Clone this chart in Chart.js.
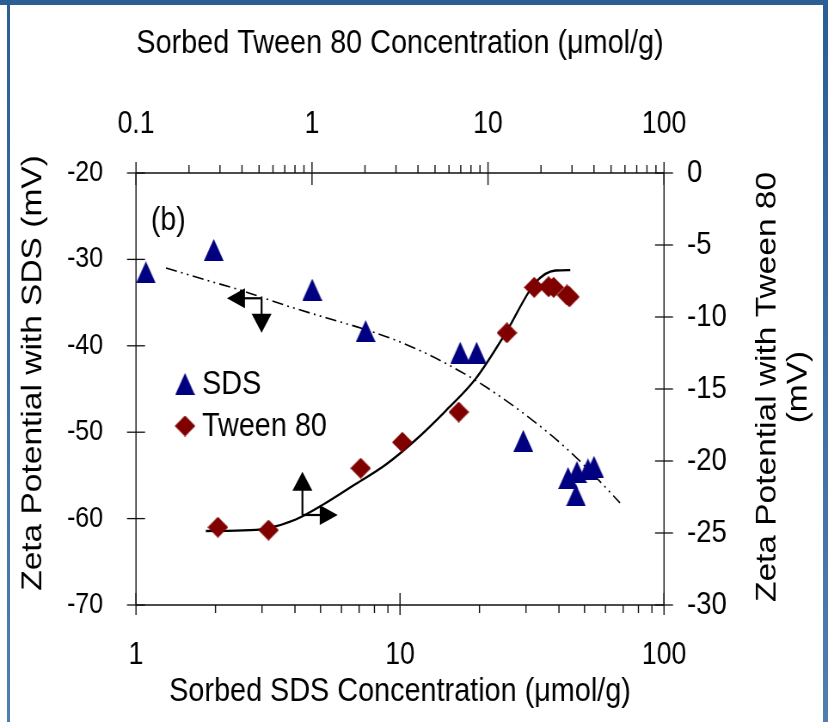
<!DOCTYPE html>
<html><head><meta charset="utf-8">
<script src="https://cdn.jsdelivr.net/npm/chart.js@4.4.1/dist/chart.umd.min.js"></script>
<style>
html,body{margin:0;padding:0;background:#fff;}
#wrap{position:relative;width:828px;height:722px;overflow:hidden;background:#fff;}
#c{position:absolute;left:0;top:0;transform-origin:0 0;}
.bar{position:absolute;}
</style></head><body>
<div id="wrap">
<canvas id="c"></canvas>
<div class="bar" style="left:0;top:0;width:828px;height:5px;background:#2B5E95"></div>
<div class="bar" style="left:7px;top:0;width:3px;height:722px;background:linear-gradient(#2B5E95,#4F7EAF)"></div>
<div class="bar" style="left:823px;top:0;width:5px;height:722px;background:linear-gradient(#2B5E95,#4F7EAF)"></div>
</div>
<script>
// ---- data ----
const sdsConc = [1.09, 1.97, 4.65, 7.41, 16.9, 19.5, 29.3, 43.3, 46.4, 46.8, 51.5, 54.3];
const sdsZeta = [-31.5, -28.9, -33.5, -38.3, -40.8, -40.8, -51.0, -55.3, -57.3, -54.6, -54.3, -54.0];
const tweenConc = [0.292, 0.566, 1.89, 3.26, 6.82, 12.8, 18.3, 22.1, 23.6, 28.1, 29.0];
const tweenZeta = [-24.6, -24.8, -20.5, -18.7, -16.6, -11.1, -7.94, -7.9, -7.94, -8.47, -8.6];
// fitted curves
const sdsFitConc = [1.299, 1.842, 2.610, 3.700, 5.244, 7.434, 10.54, 14.94, 21.18, 30.01, 42.54, 57.24, 68.13];
const sdsFitZeta = [-31.0, -32.38, -33.77, -35.34, -36.76, -38.14, -39.84, -42.05, -44.77, -48.04, -51.83, -55.72, -58.19];
const tweenFitConc = [0.2495, 0.3693, 0.5463, 0.8082, 1.196, 1.770, 2.618, 3.874, 5.733, 8.483, 12.55, 18.57, 24.12, 29.34];
const tweenFitZeta = [-24.86, -24.83, -24.69, -24.06, -22.92, -21.60, -20.26, -18.54, -16.53, -14.31, -11.15, -7.62, -6.77, -6.74];
// axis ticks
const bottomTickValues = [1, 10, 100];
const bottomTickLabels = ['1', '10', '100'];
const topTickValues = [0.1, 1, 10, 100];
const topTickLabels = ['0.1', '1', '10', '100'];
const leftTickValues = [-70, -60, -50, -40, -30, -20];
const leftTickLabels = ['-70', '-60', '-50', '-40', '-30', '-20'];
const rightTickValues = [-30, -25, -20, -15, -10, -5, 0];
const rightTickLabels = ['-30', '-25', '-20', '-15', '-10', '-5', '0'];
// direction arrows (data units)
const sdsArrow = {x: 2.99, y: -34.5, toX: 2.21, toY: -38.5};
const tweenArrow = {x: 0.882, y: -23.75, toX: 1.40, toY: -20.74};
const panelLabel = '(b)';

// the original figure is horizontally condensed; draw wider and squeeze
const OUT_W = 828, OUT_H = 722;
const CW = 963;
const SQ = OUT_W / CW;
const cv = document.getElementById('c');
cv.width = CW; cv.height = OUT_H;
cv.style.transform = 'scaleX(' + SQ + ')';

const FONT = "'Liberation Sans', Arial, Helvetica, sans-serif";
Chart.defaults.font.family = FONT;
Chart.defaults.color = '#000';

const SDS_COLOR = '#000080';
const TWEEN_COLOR = '#800000';

function markerImage(w, h, color, kind) {
  const c = document.createElement('canvas');
  c.width = w; c.height = h;
  const g = c.getContext('2d');
  g.fillStyle = color;
  g.beginPath();
  if (kind === 'tri') { g.moveTo(w / 2, 0); g.lineTo(w, h); g.lineTo(0, h); }
  else { g.moveTo(w / 2, 0); g.lineTo(w, h / 2); g.lineTo(w / 2, h); g.lineTo(0, h / 2); }
  g.closePath(); g.fill();
  return c;
}
const triImg = markerImage(23, 22, SDS_COLOR, 'tri');
const diaImg = markerImage(24, 21, TWEEN_COLOR, 'dia');

const zip = (xs, ys) => xs.map((x, i) => ({x: x, y: ys[i]}));
const X = v => v / SQ; // screen px -> canvas px (horizontal)

const axisPlugin = {
  id: 'axisDecor',
  beforeDatasetsDraw(chart) {
    const ctx = chart.ctx, a = chart.chartArea, s = chart.scales;
    ctx.save();
    ctx.strokeStyle = '#111';
    const line = (x1, y1, x2, y2) => { ctx.beginPath(); ctx.moveTo(x1, y1); ctx.lineTo(x2, y2); ctx.stroke(); };
    ctx.lineWidth = 1.6;
    line(a.left, a.top, a.right, a.top);
    line(a.left, a.bottom, a.right, a.bottom);
    ctx.lineWidth = 1.4;
    line(a.left, a.top, a.left, a.bottom);
    line(a.right, a.top, a.right, a.bottom);
    // bottom ticks
    bottomTickValues.forEach(v => { const x = s.x.getPixelForValue(v); line(x, a.bottom - 12, x, a.bottom + 10); });
    for (let d = 0; d < bottomTickValues.length - 1; d++) for (let m = 2; m <= 9; m++) {
      const x = s.x.getPixelForValue(bottomTickValues[d] * m); line(x, a.bottom, x, a.bottom + 8);
    }
    // top ticks
    topTickValues.forEach(v => { const x = s.x2.getPixelForValue(v); line(x, a.top - 11, x, a.top + 12); });
    for (let d = 0; d < topTickValues.length - 1; d++) for (let m = 2; m <= 9; m++) {
      const x = s.x2.getPixelForValue(topTickValues[d] * m); line(x, a.top - 8, x, a.top);
    }
    ctx.lineWidth = 1.3;
    leftTickValues.forEach(v => { const y = s.y.getPixelForValue(v); line(a.left - X(9), y, a.left + X(9), y); });
    rightTickValues.forEach(v => { const y = s.y2.getPixelForValue(v); line(a.right - X(9), y, a.right + X(9), y); });
    ctx.restore();
  },
  afterDatasetsDraw(chart) {
    const ctx = chart.ctx, a = chart.chartArea, s = chart.scales;
    ctx.save();
    // arrows
    const head = (x, y, dx, dy) => {
      const L = dx ? X(18) : 19, W = dx ? 10 : X(10);
      ctx.beginPath();
      ctx.moveTo(x, y);
      ctx.lineTo(x - dx * L - dy * W, y - dy * L + dx * W);
      ctx.lineTo(x - dx * L + dy * W, y - dy * L - dx * W);
      ctx.closePath(); ctx.fill();
    };
    const drawArrow = (arw, sx, sy) => {
      const cx = sx.getPixelForValue(arw.x), cy = sy.getPixelForValue(arw.y);
      const tx = sx.getPixelForValue(arw.toX), ty = sy.getPixelForValue(arw.toY);
      const hx = Math.sign(tx - cx), vy = Math.sign(ty - cy);
      ctx.strokeStyle = '#000'; ctx.fillStyle = '#000'; ctx.lineWidth = 2.2;
      ctx.beginPath(); ctx.moveTo(cx, cy); ctx.lineTo(tx - hx * X(16), cy); ctx.stroke();
      ctx.beginPath(); ctx.moveTo(cx, cy); ctx.lineTo(cx, ty - vy * 17); ctx.stroke();
      head(tx, cy, hx, 0);
      head(cx, ty, 0, vy);
    };
    drawArrow(sdsArrow, s.x, s.y);
    drawArrow(tweenArrow, s.x2, s.y2);
    // panel label
    ctx.fillStyle = '#000';
    ctx.font = '33px ' + FONT;
    ctx.textAlign = 'left'; ctx.textBaseline = 'middle';
    ctx.fillText(panelLabel, a.left + X(15), a.top + 48);
    // legend
    const items = chart.data.datasets.filter(d => d.inLegend);
    items.forEach((d, i) => {
      const y = a.top + 211 + i * 42, x = a.left + X(49);
      Chart.helpers.drawPoint(ctx, {pointStyle: d.pointStyle, radius: d.pointRadius, rotation: 0, borderWidth: 0}, x, y);
      ctx.fillStyle = '#000';
      ctx.font = '33.5px ' + FONT;
      ctx.fillText(d.label, x + X(17), y + 1);
    });
    // rotated y titles (reading bottom to top on both sides)
    const drawRot = (lines, cx, cy, lh) => {
      ctx.save();
      ctx.translate(cx, cy); ctx.rotate(-Math.PI / 2);
      ctx.font = '33.5px ' + FONT; ctx.fillStyle = '#000';
      ctx.textAlign = 'center'; ctx.textBaseline = 'middle';
      lines.forEach((l, i) => ctx.fillText(l, 0, (i - (lines.length - 1) / 2) * lh));
      ctx.restore();
    };
    drawRot([].concat(s.y.options.title.text), a.left - X(103), a.top + 200, 36);
    drawRot([].concat(s.y2.options.title.text), a.right + X(119), a.top + 214, 36);
    ctx.restore();
  }
};

const noGrid = {display: false, drawTicks: false, drawOnChartArea: false};
new Chart(cv, {
  type: 'scatter',
  data: {
    datasets: [
      {label: 'SDS', inLegend: true, data: zip(sdsConc, sdsZeta), xAxisID: 'x', yAxisID: 'y',
       pointStyle: triImg, pointRadius: 10, backgroundColor: SDS_COLOR, borderWidth: 0, order: 1, clip: false},
      {label: 'Tween 80', inLegend: true, data: zip(tweenConc, tweenZeta), xAxisID: 'x2', yAxisID: 'y2',
       pointStyle: diaImg, pointRadius: 10, backgroundColor: TWEEN_COLOR, borderWidth: 0, order: 1, clip: false},
      {label: 'SDS fit', data: zip(sdsFitConc, sdsFitZeta), xAxisID: 'x', yAxisID: 'y', showLine: true,
       pointRadius: 0, borderColor: '#000', borderWidth: 1.6, borderDash: [13, 5, 2, 5, 2, 5], tension: 0.4,
       cubicInterpolationMode: 'monotone', order: 2, clip: false},
      {label: 'Tween 80 fit', data: zip(tweenFitConc, tweenFitZeta), xAxisID: 'x2', yAxisID: 'y2', showLine: true,
       pointRadius: 0, borderColor: '#000', borderWidth: 2.3, tension: 0.4,
       cubicInterpolationMode: 'monotone', order: 2, clip: false}
    ]
  },
  options: {
    responsive: false, animation: false, devicePixelRatio: 1,
    layout: {padding: 0},
    plugins: {legend: {display: false}, tooltip: {enabled: false}},
    scales: {
      x: {type: 'logarithmic', position: 'bottom', min: 1, max: 100,
          afterBuildTicks: sc => { sc.ticks = bottomTickValues.map(v => ({value: v})); },
          afterFit: sc => { sc.height = OUT_H - 605; },
          grid: noGrid, border: {display: false},
          ticks: {callback: (v, i) => bottomTickLabels[i], font: {size: 31}, color: '#000', padding: 32, maxRotation: 0, autoSkip: false},
          title: {display: true, text: 'Sorbed SDS Concentration (μmol/g)', font: {size: 33.5}, color: '#000', padding: {top: 0, bottom: 10}}},
      x2: {type: 'logarithmic', position: 'top', min: 0.1, max: 100,
          afterBuildTicks: sc => { sc.ticks = topTickValues.map(v => ({value: v})); },
          afterFit: sc => { sc.height = 173; },
          grid: noGrid, border: {display: false},
          ticks: {callback: (v, i) => topTickLabels[i], font: {size: 31}, color: '#000', padding: 30, maxRotation: 0, autoSkip: false},
          title: {display: true, text: 'Sorbed Tween 80 Concentration (μmol/g)', font: {size: 33.5}, color: '#000', padding: {top: 24, bottom: 0}}},
      y: {type: 'linear', position: 'left', min: -70, max: -20,
          afterBuildTicks: sc => { sc.ticks = leftTickValues.map(v => ({value: v})); },
          afterFit: sc => { sc.width = X(136); },
          grid: noGrid, border: {display: false},
          ticks: {callback: (v, i) => leftTickLabels[i], font: {size: 29}, color: '#000', padding: X(33)},
          title: {display: false, text: 'Zeta Potential with SDS (mV)'}},
      y2: {type: 'linear', position: 'right', min: -30, max: 0,
          afterBuildTicks: sc => { sc.ticks = rightTickValues.map(v => ({value: v})); },
          afterFit: sc => { sc.width = CW - X(664); },
          grid: noGrid, border: {display: false},
          ticks: {callback: (v, i) => rightTickLabels[i], font: {size: 32}, color: '#000', padding: X(23)},
          title: {display: false, text: ['Zeta Potential with Tween 80', '(mV)']}}
    }
  },
  plugins: [axisPlugin]
});
</script>
</body></html>
